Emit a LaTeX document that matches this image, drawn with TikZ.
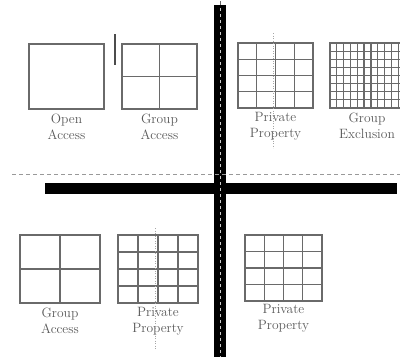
\documentclass[tikz,border=0pt]{standalone}
\usetikzlibrary{positioning}
\definecolor{fence}{HTML}{6A6A6A}
\definecolor{inkgray}{HTML}{585858}
\tikzset{
  fenceline/.style={draw=fence,line width=1.2pt},
  caption/.style={align=center,text=inkgray,inner sep=0pt,
    font=\fontsize{13.5}{16}\selectfont},
  road/.style={fill=black},
  divider/.style={draw=black!40,dash pattern=on 4pt off 3pt,line width=0.8pt},
  centreline/.style={draw=white!80!black,dash pattern=on 3pt off 3pt,line width=1pt},
  survey/.style={draw=black!35,dotted,line width=0.5pt}
}
% \parcel{x}{y}{w}{h}{cols}{rows}
\newcommand{\parcel}[6]{%
  \draw[fenceline] (#1,#2) rectangle ++(#3,#4);
  \foreach \k in {1,...,#5}{\ifnum\k<#5 \draw[fenceline] ({#1+\k*#3/#5},#2) -- ++(0,#4);\fi}
  \foreach \k in {1,...,#6}{\ifnum\k<#6 \draw[fenceline] (#1,{#2+\k*#4/#6}) -- ++(#3,0);\fi}
}

\begin{document}
\begin{tikzpicture}[x=1pt,y=-1pt]
  \useasboundingbox (0,0) rectangle (400,357);
  % roads
  \fill[road] (214,5) rectangle (226,357);
  \fill[road] (45,183) rectangle (397,194);
  \draw[divider] (12,174) -- (400,174);
  \draw[centreline] (220,2) -- (220,357);
  \draw[black!60,line width=1pt] (220,1) -- (220,5);
  \draw[black!70,line width=2pt] (115,34) -- (115,65);

  % top row
  \parcel{29}{44}{75}{65}{1}{1}
  \parcel{122}{44}{75}{65}{2}{2}
  \parcel{238}{43}{75}{65}{4}{4}
  \parcel{330}{43}{75}{65}{11}{8}
  \node[caption] (openacc) at (66.5,127) {Open\\Access};
  \node[caption] (groupacc) at (159.5,127) {Group\\Access};
  \node[caption] (privtop) at (275.5,126) {Private\\Property};
  \node[caption] (groupexc) at (367,126) {Group\\Exclusion};
  \draw[survey] (273,33) -- (273,148);

  % bottom row
  \parcel{20}{235}{80}{68}{2}{2}
  \parcel{118}{235}{80}{68}{4}{4}
  \parcel{245}{235}{77}{66}{4}{4}
  \node[caption] (groupbot) at (60,321) {Group\\Access};
  \node[caption] (privbot) at (158,321) {Private\\Property};
  \node[caption] (privright) at (283.5,318) {Private\\Property};
  \draw[survey] (155,228) -- (155,350);
\end{tikzpicture}
\end{document}
